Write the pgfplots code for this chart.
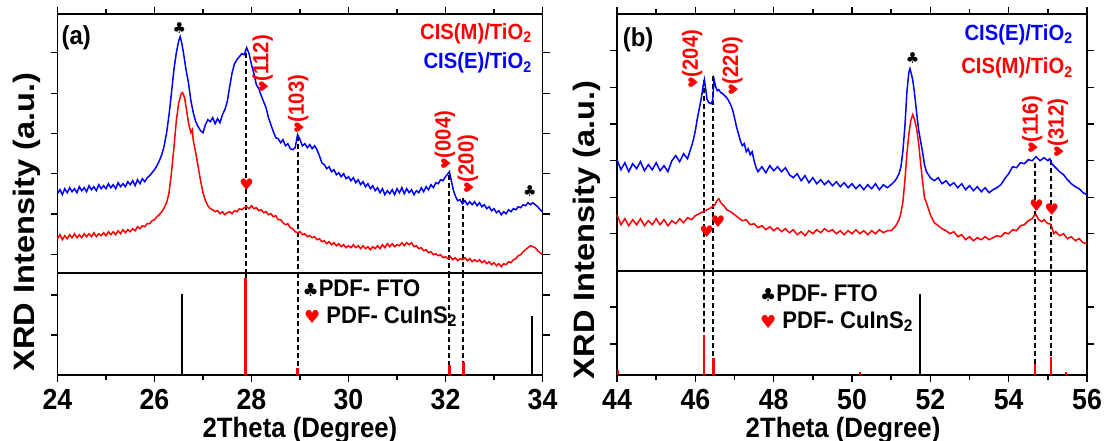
\documentclass[border=0pt]{standalone}
\usepackage{pgfplots}
\pgfplotsset{compat=1.18}
\usepackage{fontspec}
\setmainfont{Liberation Sans}[FakeStretch=0.92]
\newfontfamily\symfont{DejaVu Sans}
\definecolor{pred}{RGB}{255,0,0}
\definecolor{pblue}{RGB}{0,0,255}
\newcommand{\hs}{{\symfont ♥}}
\newcommand{\cs}{{\symfont ♣}}
\tikzset{mtick/.style={black, line width=1.5pt}}
\pgfplotsset{
  xrd/.style={scale only axis, clip=false,
    axis line style={line width=1.7pt},
    tick style={black, line width=1.5pt},
    xtick align=outside, ytick align=outside,
    major tick length=7pt, minor tick length=5pt,
    yticklabels={}, ytick pos=both,
    /pgf/number format/assume math mode=true,
    tick label style={font=\fontsize{29}{29}\selectfont\bfseries},
    xticklabel style={yshift=-4pt},
    minor x tick num=1},
  curve/.style={line width=1.5pt},
  dsh/.style={black, line width=2pt, dash pattern=on 5pt off 3pt},
  redstick/.style={ycomb, pred, line width=2.5pt},
  blkstick/.style={ycomb, black, line width=1.6pt},
}
\begin{document}
\begin{tikzpicture}
\path[use as bounding box] (0,0) rectangle (1105pt,-441pt);
% ================= LEFT UPPER =================
\begin{axis}[xrd, at={(57.5pt,-14pt)}, anchor=north west, width=485pt, height=258.7pt,
  xmin=24, xmax=34, ymin=0, ymax=258.7, xtick={24,26,28,30,32,34}, xticklabels={}, xtick pos=right,
  ytick={18,58.5,99,139,179,220}]
\pgfplotsinvokeforeach{24,25,26,27,28,29,30,31,32,33,34}{\draw[mtick] (axis cs:#1,258.7) -- ++(0pt,5pt);}
\addplot[dsh] coordinates {(27.88,219.7) (27.88,0)};
\addplot[dsh] coordinates {(28.95,137) (28.95,0)};
\addplot[dsh] coordinates {(32.08,98) (32.08,0)};
\addplot[dsh] coordinates {(32.37,75) (32.37,0)};
\addplot[curve, pblue] coordinates {
(24.00,79) (24.05,83) (24.10,78) (24.15,84) (24.20,80) (24.25,85) (24.30,81) (24.35,84) (24.40,80) (24.45,86)
(24.50,82) (24.55,85) (24.60,81) (24.65,87) (24.70,83) (24.75,86) (24.80,82) (24.85,88) (24.90,84) (24.95,87)
(25.00,84) (25.05,89) (25.10,85) (25.15,88) (25.20,84) (25.25,90) (25.30,86) (25.35,89) (25.40,86) (25.45,91)
(25.50,88) (25.55,92) (25.60,87) (25.65,93) (25.70,89) (25.75,94) (25.80,91) (25.85,95) (25.90,97) (25.95,100)
(26.00,103) (26.05,107) (26.10,112) (26.15,118) (26.20,127) (26.25,140) (26.30,158) (26.35,180) (26.40,203) (26.45,220)
(26.50,232) (26.53,236) (26.56,230) (26.60,219) (26.65,203) (26.70,190) (26.75,172) (26.80,160) (26.85,151) (26.90,146)
(26.95,142) (27.00,140) (27.05,148) (27.10,153) (27.15,151) (27.20,155) (27.25,149) (27.30,154) (27.35,150) (27.40,158)
(27.45,163) (27.50,171) (27.55,186) (27.60,200) (27.65,209) (27.70,213) (27.75,216) (27.80,219) (27.85,218) (27.90,225)
(27.95,219) (28.00,208) (28.05,199) (28.10,188) (28.15,184) (28.20,177) (28.25,171) (28.30,165) (28.35,155) (28.40,148)
(28.45,141) (28.50,135) (28.55,134) (28.60,130) (28.65,133) (28.70,127) (28.75,129) (28.80,124) (28.85,123) (28.90,125)
(28.95,138) (29.00,133) (29.05,127) (29.10,129) (29.15,125) (29.20,128) (29.25,124) (29.30,127) (29.35,123) (29.40,117)
(29.45,110) (29.50,108) (29.55,104) (29.60,106) (29.65,101) (29.70,103) (29.75,98) (29.80,100) (29.85,96) (29.90,99)
(29.95,94) (30.00,96) (30.05,92) (30.10,95) (30.15,90) (30.20,93) (30.25,88) (30.30,91) (30.35,86) (30.40,89)
(30.45,84) (30.50,87) (30.55,82) (30.60,85) (30.65,80) (30.70,84) (30.75,78) (30.80,82) (30.85,79) (30.90,83)
(30.95,78) (31.00,84) (31.05,80) (31.10,85) (31.15,79) (31.20,84) (31.25,80) (31.30,83) (31.35,78) (31.40,82)
(31.45,80) (31.50,85) (31.55,81) (31.60,86) (31.65,83) (31.70,88) (31.75,85) (31.80,90) (31.85,89) (31.90,93)
(31.95,92) (32.00,96) (32.05,99) (32.08,101) (32.12,92) (32.16,83) (32.20,77) (32.25,72) (32.30,73) (32.35,69)
(32.40,72) (32.45,68) (32.50,71) (32.55,68) (32.60,71) (32.65,67) (32.70,70) (32.75,66) (32.80,68) (32.85,64)
(32.90,66) (32.95,62) (33.00,64) (33.05,60) (33.10,62) (33.15,58) (33.20,61) (33.25,59) (33.30,63) (33.35,61)
(33.40,64) (33.45,63) (33.50,66) (33.55,65) (33.60,68) (33.65,67) (33.70,70) (33.75,68) (33.80,70) (33.85,68)
(33.90,66) (33.95,63) (34.00,61)};
\addplot[curve, pred] coordinates {
(24.00,34) (24.05,38) (24.10,33) (24.15,37) (24.20,34) (24.25,38) (24.30,35) (24.35,39) (24.40,35) (24.45,38)
(24.50,35) (24.55,39) (24.60,36) (24.65,39) (24.70,36) (24.75,40) (24.80,36) (24.85,39) (24.90,37) (24.95,40)
(25.00,37) (25.05,41) (25.10,38) (25.15,41) (25.20,38) (25.25,42) (25.30,39) (25.35,43) (25.40,40) (25.45,43)
(25.50,41) (25.55,44) (25.60,42) (25.65,46) (25.70,44) (25.75,47) (25.80,46) (25.85,49) (25.90,49) (25.95,52)
(26.00,53) (26.05,56) (26.10,58) (26.15,61) (26.20,65) (26.25,70) (26.30,80) (26.35,100) (26.40,125) (26.45,152)
(26.50,170) (26.55,179) (26.58,180) (26.62,175) (26.66,163) (26.70,150) (26.75,140) (26.78,143) (26.80,132) (26.85,120)
(26.90,106) (26.95,92) (27.00,80) (27.05,72) (27.10,67) (27.15,64) (27.20,63) (27.25,61) (27.30,62) (27.35,59)
(27.40,61) (27.45,58) (27.50,60) (27.55,61) (27.60,59) (27.65,62) (27.70,61) (27.75,64) (27.80,63) (27.85,65)
(27.90,66) (27.95,64) (28.00,67) (28.05,64) (28.10,65) (28.15,62) (28.20,63) (28.25,60) (28.30,61) (28.35,58)
(28.40,59) (28.45,56) (28.50,57) (28.55,53) (28.60,53) (28.65,50) (28.70,48) (28.75,49) (28.80,45) (28.85,44)
(28.90,41) (28.95,40) (29.00,41) (29.05,38) (29.10,39) (29.15,36) (29.20,37) (29.25,35) (29.30,36) (29.35,33)
(29.40,34) (29.45,31) (29.50,32) (29.55,29) (29.60,31) (29.65,28) (29.70,30) (29.75,27) (29.80,29) (29.85,26)
(29.90,28) (29.95,25) (30.00,27) (30.05,25) (30.10,28) (30.15,25) (30.20,27) (30.25,24) (30.30,27) (30.35,24)
(30.40,26) (30.45,23) (30.50,26) (30.55,24) (30.60,27) (30.65,24) (30.70,28) (30.75,25) (30.80,29) (30.85,26)
(30.90,29) (30.95,26) (31.00,28) (31.05,27) (31.10,30) (31.15,27) (31.20,30) (31.25,28) (31.30,30) (31.35,26)
(31.40,27) (31.45,24) (31.50,25) (31.55,22) (31.60,23) (31.65,20) (31.70,21) (31.75,18) (31.80,19) (31.85,17)
(31.90,18) (31.95,15) (32.00,16) (32.05,14) (32.10,16) (32.15,13) (32.20,15) (32.25,12) (32.30,14) (32.35,13)
(32.40,15) (32.45,12) (32.50,14) (32.55,11) (32.60,13) (32.65,11) (32.70,13) (32.75,10) (32.80,12) (32.85,9)
(32.90,11) (32.95,8) (33.00,10) (33.05,7) (33.10,9) (33.15,6) (33.20,9) (33.25,8) (33.30,11) (33.35,10)
(33.40,13) (33.45,14) (33.50,17) (33.55,18) (33.60,21) (33.65,23) (33.70,25) (33.75,27) (33.80,26) (33.85,25)
(33.90,22) (33.95,20) (34.00,18)};
% annotations
\node[font=\fontsize{26}{26}\selectfont\bfseries, anchor=west, inner sep=0pt] at (rel axis cs:0.008,0.907) {(a)};
\node[font=\fontsize{22}{22}\selectfont\bfseries, text=pred, anchor=east, inner sep=0pt] at (rel axis cs:0.978,0.925) {CIS(M)/TiO\textsubscript{2}};
\node[font=\fontsize{22}{22}\selectfont\bfseries, text=pblue, anchor=east, inner sep=0pt] at (rel axis cs:0.978,0.81) {CIS(E)/TiO\textsubscript{2}};
\node[font=\fontsize{15}{15}\selectfont, inner sep=0pt] at (axis cs:26.51,244.7) {\cs};
\node[font=\fontsize{15}{15}\selectfont, inner sep=0pt] at (axis cs:33.74,81.7) {\cs};
\node[font=\fontsize{16}{16}\selectfont, text=pred, inner sep=0pt] at (axis cs:27.9,87.7) {\hs};
\node[rotate=90, anchor=west, text=pred, font=\fontsize{22}{22}\selectfont\bfseries, inner sep=0pt] at (axis cs:28.23,179.7) {{\fontsize{13}{13}\selectfont\hs}(112)};
\node[rotate=90, anchor=west, text=pred, font=\fontsize{22}{22}\selectfont\bfseries, inner sep=0pt] at (axis cs:28.96,138.7) {{\fontsize{13}{13}\selectfont\hs}(103)};
\node[rotate=90, anchor=west, text=pred, font=\fontsize{22}{22}\selectfont\bfseries, inner sep=0pt] at (axis cs:31.99,102.7) {{\fontsize{13}{13}\selectfont\hs}(004)};
\node[rotate=90, anchor=west, text=pred, font=\fontsize{22}{22}\selectfont\bfseries, inner sep=0pt] at (axis cs:32.46,78.7) {{\fontsize{13}{13}\selectfont\hs}(200)};
\node[rotate=90, inner sep=0pt] at (rel axis cs:-0.063,0.196) {\scalebox{1.2}[1]{\fontsize{29.5}{29.5}\selectfont\bfseries XRD Intensity (a.u.)}};
\end{axis}
% ================= LEFT LOWER =================
\begin{axis}[xrd, at={(57.5pt,-272.7pt)}, anchor=north west, width=485pt, height=102.3pt,
  xmin=24, xmax=34, ymin=0, ymax=102.3, xtick={24,26,28,30,32,34}, xtick pos=left,
  ytick={40,80},
  xlabel={2Theta (Degree)},
  xlabel style={font=\fontsize{28}{28}\selectfont\bfseries, at={(axis description cs:0.5,0)}, anchor=base, yshift=-62pt}]
\pgfplotsinvokeforeach{24,26,28,30,32,34}{\draw[mtick] (axis cs:#1,0) -- ++(0pt,-7pt);}
\pgfplotsinvokeforeach{25,27,29,31,33}{\draw[mtick] (axis cs:#1,0) -- ++(0pt,-5pt);}
\addplot[dsh] coordinates {(27.88,102.3) (27.88,0)};
\addplot[dsh] coordinates {(28.95,102.3) (28.95,0)};
\addplot[dsh] coordinates {(32.08,102.3) (32.08,0)};
\addplot[dsh] coordinates {(32.37,102.3) (32.37,0)};
\addplot[blkstick] coordinates {(26.57,81) (33.78,59)};
\addplot[redstick] coordinates {(27.88,97) (28.95,7) (32.08,10) (32.37,13)};
\node[anchor=west, inner sep=0pt, font=\fontsize{24}{24}\selectfont\bfseries] at (axis cs:29.05,87) {{\fontsize{18}{18}\selectfont\cs}PDF- FTO};
\node[anchor=west, inner sep=0pt, font=\fontsize{24}{24}\selectfont\bfseries] at (axis cs:29.08,58.3) {{\color{pred}\fontsize{18}{18}\selectfont\hs} PDF- CuInS\textsubscript{2}};
\end{axis}
% ================= RIGHT UPPER =================
\begin{axis}[xrd, at={(617pt,-14pt)}, anchor=north west, width=470pt, height=256.7pt,
  xmin=44, xmax=56, ymin=0, ymax=256.7, xtick={44,46,48,50,52,54,56}, xticklabels={}, xtick pos=right,
  ytick={37.4,73.4,110,146.7,183.4,220}]
\pgfplotsinvokeforeach{44,45,46,47,48,49,50,51,52,53,54,55,56}{\draw[mtick] (axis cs:#1,256.7) -- ++(0pt,5pt);}
\addplot[dsh] coordinates {(46.22,190.7) (46.22,0)};
\addplot[dsh] coordinates {(46.46,194.7) (46.46,0)};
\addplot[dsh] coordinates {(54.67,107.7) (54.67,0)};
\addplot[dsh] coordinates {(55.08,110.7) (55.08,0)};
\addplot[curve, pblue] coordinates {
(44.0,111) (44.1,101) (44.2,108) (44.3,99) (44.4,107) (44.5,102) (44.6,109) (44.7,100) (44.8,106) (44.9,101)
(45.0,108) (45.1,100) (45.2,105) (45.3,99) (45.4,110) (45.5,115) (45.6,109) (45.7,117) (45.8,112) (45.9,124)
(45.95,131) (46.0,140) (46.05,152) (46.1,162) (46.15,172) (46.2,185) (46.23,191) (46.27,180) (46.3,171) (46.35,168)
(46.4,167) (46.44,170) (46.48,191) (46.52,184) (46.56,180) (46.6,181) (46.65,178) (46.7,177) (46.75,175) (46.8,173)
(46.85,170) (46.9,166) (46.95,161) (47.0,153) (47.05,144) (47.1,137) (47.15,130) (47.2,125) (47.25,127) (47.3,119)
(47.35,122) (47.4,116) (47.45,119) (47.5,110) (47.55,103) (47.6,99) (47.7,104) (47.8,98) (47.9,105) (48.0,100)
(48.1,104) (48.2,99) (48.3,103) (48.4,96) (48.5,93) (48.6,97) (48.7,90) (48.8,95) (48.9,88) (49.0,93)
(49.1,87) (49.2,91) (49.3,86) (49.4,90) (49.5,85) (49.6,89) (49.7,84) (49.8,88) (49.9,83) (50.0,87)
(50.1,82) (50.2,86) (50.3,81) (50.4,86) (50.5,82) (50.6,87) (50.7,81) (50.8,86) (50.9,83) (51.0,86)
(51.05,88) (51.1,90) (51.15,93) (51.2,97) (51.25,104) (51.3,120) (51.35,144) (51.4,178) (51.45,198) (51.48,202)
(51.52,196) (51.55,191) (51.6,176) (51.65,158) (51.7,141) (51.75,130) (51.8,119) (51.85,106) (51.9,99) (51.95,96)
(52.0,93) (52.1,90) (52.2,93) (52.3,87) (52.4,90) (52.5,85) (52.6,88) (52.7,83) (52.8,87) (52.9,81)
(53.0,85) (53.1,80) (53.2,84) (53.3,79) (53.4,83) (53.5,78) (53.6,81) (53.7,83) (53.8,86) (53.9,92)
(54.0,97) (54.1,104) (54.2,103) (54.3,108) (54.4,107) (54.5,111) (54.6,110) (54.7,114) (54.8,110) (54.9,113)
(55.0,110) (55.05,112) (55.1,107) (55.2,103) (55.3,99) (55.4,96) (55.5,91) (55.6,87) (55.7,84) (55.8,82)
(55.9,78) (56.0,76)};
\addplot[curve, pred] coordinates {
(44.0,56) (44.1,46) (44.2,52) (44.3,45) (44.4,51) (44.5,46) (44.6,52) (44.7,45) (44.8,50) (44.9,46)
(45.0,52) (45.1,46) (45.2,51) (45.3,45) (45.4,50) (45.5,47) (45.6,52) (45.7,48) (45.8,53) (45.9,51)
(46.0,55) (46.1,57) (46.2,59) (46.3,61) (46.4,63) (46.5,66) (46.55,70) (46.6,72) (46.65,68) (46.7,66)
(46.75,64) (46.8,61) (46.9,59) (47.0,56) (47.1,53) (47.2,50) (47.3,51) (47.4,46) (47.5,47) (47.6,43)
(47.7,45) (47.8,41) (47.9,44) (48.0,40) (48.1,43) (48.2,39) (48.3,42) (48.4,38) (48.5,41) (48.6,36)
(48.7,39) (48.8,35) (48.9,40) (49.0,37) (49.1,41) (49.2,38) (49.3,42) (49.4,39) (49.5,41) (49.6,37)
(49.7,40) (49.8,36) (49.9,40) (50.0,37) (50.1,41) (50.2,37) (50.3,40) (50.4,36) (50.5,40) (50.6,37)
(50.7,41) (50.8,38) (50.9,40) (51.0,40) (51.05,42) (51.1,44) (51.15,47) (51.2,51) (51.25,58) (51.3,69)
(51.35,90) (51.4,116) (51.45,136) (51.5,150) (51.55,156) (51.6,151) (51.65,142) (51.7,128) (51.75,108) (51.8,90)
(51.85,73) (51.9,68) (51.95,62) (52.0,56) (52.05,52) (52.1,48) (52.2,45) (52.3,42) (52.4,40) (52.5,37)
(52.6,39) (52.7,34) (52.8,36) (52.9,31) (53.0,34) (53.1,30) (53.2,33) (53.3,31) (53.4,34) (53.5,31)
(53.6,33) (53.7,35) (53.8,34) (53.9,38) (54.0,37) (54.1,41) (54.2,40) (54.3,45) (54.4,46) (54.5,50)
(54.6,52) (54.65,55) (54.7,56) (54.75,52) (54.8,50) (54.85,49) (54.9,51) (55.0,47) (55.05,47) (55.1,44)
(55.15,37) (55.2,39) (55.3,35) (55.4,37) (55.5,32) (55.6,34) (55.7,30) (55.8,32) (55.9,28) (56.0,27)};
\node[font=\fontsize{26}{26}\selectfont\bfseries, anchor=west, inner sep=0pt] at (rel axis cs:0.012,0.9) {(b)};
\node[font=\fontsize{22}{22}\selectfont\bfseries, text=pblue, anchor=east, inner sep=0pt] at (rel axis cs:0.97,0.92) {CIS(E)/TiO\textsubscript{2}};
\node[font=\fontsize{22}{22}\selectfont\bfseries, text=pred, anchor=east, inner sep=0pt] at (rel axis cs:0.97,0.79) {CIS(M)/TiO\textsubscript{2}};
\node[font=\fontsize{15}{15}\selectfont, inner sep=0pt] at (axis cs:51.55,212.7) {\cs};
\node[font=\fontsize{16}{16}\selectfont, text=pred, inner sep=0pt] at (axis cs:46.29,39) {\hs};
\node[font=\fontsize{16}{16}\selectfont, text=pred, inner sep=0pt] at (axis cs:46.58,49) {\hs};
\node[font=\fontsize{16}{16}\selectfont, text=pred, inner sep=0pt] at (axis cs:54.71,64.7) {\hs};
\node[font=\fontsize{16}{16}\selectfont, text=pred, inner sep=0pt] at (axis cs:55.1,61.4) {\hs};
\node[rotate=90, anchor=west, text=pred, font=\fontsize{22}{22}\selectfont\bfseries, inner sep=0pt] at (axis cs:45.92,181.7) {{\fontsize{13}{13}\selectfont\hs}(204)};
\node[rotate=90, anchor=west, text=pred, font=\fontsize{22}{22}\selectfont\bfseries, inner sep=0pt] at (axis cs:46.95,174.7) {{\fontsize{13}{13}\selectfont\hs}(220)};
\node[rotate=90, anchor=west, text=pred, font=\fontsize{22}{22}\selectfont\bfseries, inner sep=0pt] at (axis cs:54.6,116.7) {{\fontsize{13}{13}\selectfont\hs}(116)};
\node[rotate=90, anchor=west, text=pred, font=\fontsize{22}{22}\selectfont\bfseries, inner sep=0pt] at (axis cs:55.26,112.7) {{\fontsize{13}{13}\selectfont\hs}(312)};
\node[rotate=90, inner sep=0pt] at (rel axis cs:-0.064,0.159) {\scalebox{1.2}[1]{\fontsize{29.5}{29.5}\selectfont\bfseries XRD Intensity (a.u.)}};
\end{axis}
% ================= RIGHT LOWER =================
\begin{axis}[xrd, at={(617pt,-270.7pt)}, anchor=north west, width=470pt, height=104.3pt,
  xmin=44, xmax=56, ymin=0, ymax=104.3, xtick={44,46,48,50,52,54,56}, xtick pos=left,
  ytick={31,68},
  xlabel={2Theta (Degree)},
  xlabel style={font=\fontsize{28}{28}\selectfont\bfseries, at={(axis description cs:0.481,0)}, anchor=base, yshift=-62pt}]
\pgfplotsinvokeforeach{44,46,48,50,52,54,56}{\draw[mtick] (axis cs:#1,0) -- ++(0pt,-7pt);}
\pgfplotsinvokeforeach{45,47,49,51,53,55}{\draw[mtick] (axis cs:#1,0) -- ++(0pt,-5pt);}
\addplot[dsh] coordinates {(46.22,104.3) (46.22,0)};
\addplot[dsh] coordinates {(46.46,104.3) (46.46,0)};
\addplot[dsh] coordinates {(54.67,104.3) (54.67,0)};
\addplot[dsh] coordinates {(55.08,104.3) (55.08,0)};
\addplot[blkstick] coordinates {(51.74,81)};
\addplot[redstick] coordinates {(44.03,5) (46.22,40) (46.46,17) (50.2,3) (54.67,11) (55.08,18) (55.46,3)};
\node[anchor=west, inner sep=0pt, font=\fontsize{24}{24}\selectfont\bfseries] at (axis cs:47.65,82) {{\fontsize{18}{18}\selectfont\cs}PDF- FTO};
\node[anchor=west, inner sep=0pt, font=\fontsize{24}{24}\selectfont\bfseries] at (axis cs:47.65,53.3) {{\color{pred}\fontsize{18}{18}\selectfont\hs} PDF- CuInS\textsubscript{2}};
\end{axis}
\end{tikzpicture}
\end{document}
